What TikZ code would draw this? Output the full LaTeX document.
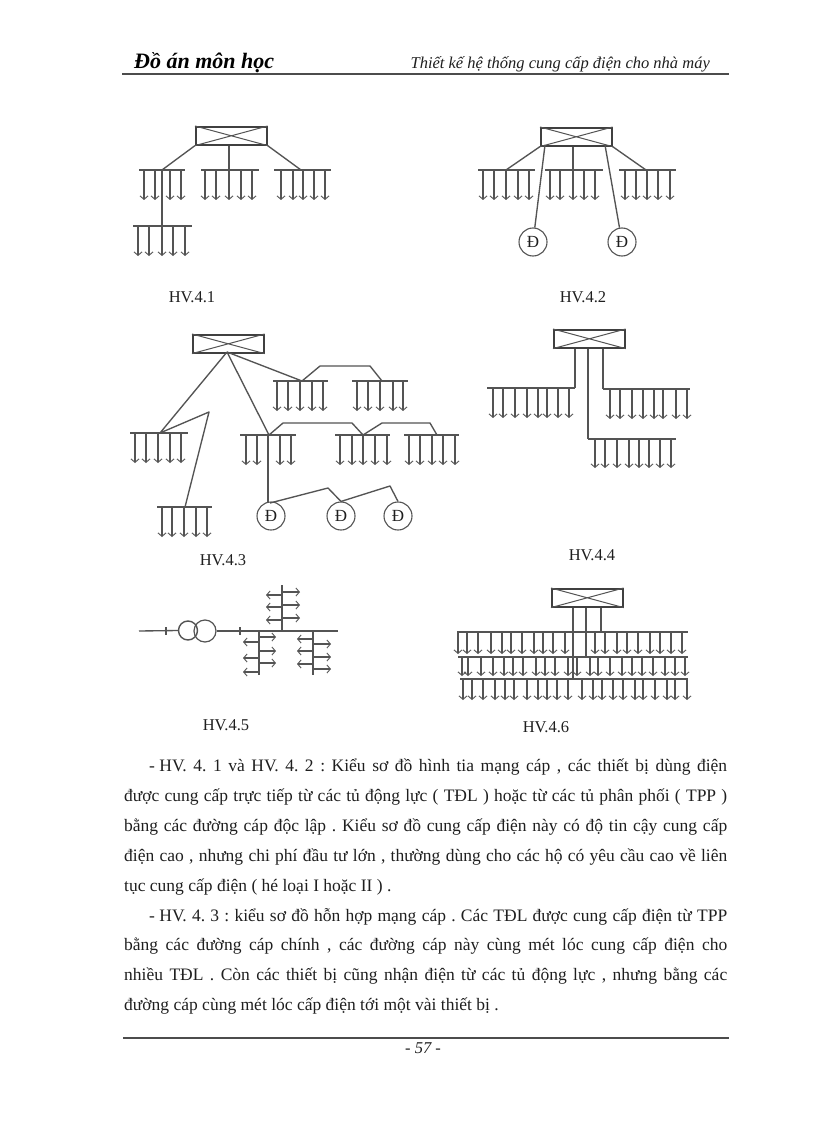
\documentclass[tikz,border=0pt]{standalone}
\usepackage{fontspec}
\setmainfont{Liberation Serif}
\usetikzlibrary{arrows.meta}
\definecolor{ln}{gray}{0.33}
\definecolor{tx}{gray}{0.12}
\tikzset{
  wire/.style={draw=ln,line width=1.35pt,line join=round},
  bar/.style={draw=ln,line width=1.35pt},
  drop/.style={draw=ln,line width=1.2pt,-{Straight Barb[length=3.5pt,width=8pt,line width=0.9pt]}},
  panel/.style={draw=black!75,line width=1.6pt,rectangle,minimum width=71pt,minimum height=18pt,inner sep=0pt,anchor=north west},
  motor/.style={draw=ln,line width=1.1pt,circle,minimum size=28pt,inner sep=0pt,text=tx,font=\fontsize{17}{17}\selectfont},
  figlabel/.style={text=tx,font=\fontsize{16.5}{17}\selectfont,inner sep=0pt},
  para/.style={text=tx,font=\fontsize{17.5}{18}\selectfont,inner sep=0pt,anchor=base west},
  rulex/.style={draw=black!70,line width=1.1pt}
}
% \busd{x1}{x2}{y}{tip y}{x list}
\newcommand{\busd}[5]{%
  \draw[bar] (#1,#3) -- (#2,#3);
  \foreach \xx in {#5} {\draw[drop] (\xx,#3) -- (\xx,#4);}
}
\newcommand{\xpanel}[1]{\draw[draw=ln,line width=1pt] (#1.north west)--(#1.south east) (#1.south west)--(#1.north east);}
\newcommand{\jline}[3]{\node[para] (#1) at (#2) {\hbox to 603pt{#3}};}
\begin{document}
\begin{tikzpicture}[x=1pt,y=-1pt]
\useasboundingbox (0,0) rectangle (816,1123);
\fill[white] (0,0) rectangle (816,1123);

% header
\node[inner sep=0pt,anchor=base west,text=black,font=\fontsize{22}{22}\selectfont\bfseries\itshape] (hl) at (134,69) {Đồ án môn học};
\node[inner sep=0pt,anchor=base east,text=tx,font=\fontsize{16.5}{17}\selectfont\itshape] (hr) at (710,69) {Thiết kế hệ thống cung cấp điện cho nhà máy};
\coordinate (hra) at (122,74); \coordinate (hrb) at (729,74);
\draw[rulex] (hra) -- (hrb);

% HV.4.1
\node[panel] (p1) at (195,126) {}; \xpanel{p1}
\coordinate (a1) at (162,170); \coordinate (a2) at (229,170); \coordinate (a3) at (301,170); \coordinate (a4) at (162,226);
\draw[wire] (p1.south west) -- (a1);
\draw[wire] (a2 |- p1.south) -- (a2);
\draw[wire] (p1.south east) -- (a3);
\draw[wire] (a1) -- (a4);
\busd{139}{185}{170}{200}{144,155,170,181}
\busd{201}{259}{170}{200}{205,216,229,241,252}
\busd{274}{331}{170}{200}{281,293,303,314,325}
\busd{133}{192}{226}{256}{138,149,162,173,185}
\node[figlabel] (c1) at (192,297) {HV.4.1};

% HV.4.2
\node[panel] (p2) at (540,127) {}; \xpanel{p2}
\coordinate (b1) at (506,170); \coordinate (b2) at (573,170); \coordinate (b3) at (646,170);
\coordinate (bm1) at (545,145); \coordinate (bm2) at (605,145);
\node[motor] (m1) at (533,242) {Đ};
\node[motor] (m2) at (622,242) {Đ};
\draw[wire] (p2.south west) -- (b1);
\draw[wire] (b2 |- p2.south) -- (b2);
\draw[wire] (p2.south east) -- (b3);
\draw[wire] (bm1) -- (m1);
\draw[wire] (bm2) -- (m2);
\busd{478}{535}{170}{200}{483,494,506,518,529}
\busd{545}{603}{170}{200}{550,560,573,584,595}
\busd{619}{676}{170}{200}{625,636,647,658,670}
\node[figlabel] (c2) at (583,297) {HV.4.2};

% HV.4.3
\node[panel] (p3) at (192,334) {}; \xpanel{p3}
\coordinate (t3) at (227,352);
\coordinate (d1) at (160,433); \coordinate (d1k) at (209,412); \coordinate (d2) at (185,507);
\coordinate (d3) at (269,435); \coordinate (d4) at (302,381);
\coordinate (d5) at (382,381); \coordinate (d6) at (363,435); \coordinate (d7) at (437,435);
\draw[wire] (t3) -- (d1) -- (d1k) -- (d2);
\draw[wire] (t3) -- (d3);
\draw[wire] (t3) -- (d4);
\draw[wire] (d4) -- (320,366) -- (370,366) -- (d5);
\draw[wire] (d3) -- (283,423) -- (352,423) -- (d6);
\draw[wire] (d6) -- (382,423) -- (430,423) -- (d7);
\busd{273}{328}{381}{411}{277,288,300,312,323}
\busd{352}{408}{381}{411}{357,368,380,393,403}
\busd{130}{188}{433}{463}{135,146,158,170,181}
\busd{157}{212}{507}{537}{162,172,184,196,207}
\busd{240}{296}{435}{465}{246,257,280,291}
\busd{335}{390}{435}{465}{340,352,363,375,387}
\busd{404}{459}{435}{465}{409,420,432,443,455}
\node[motor] (m3) at (271,516) {Đ};
\node[motor] (m4) at (341,516) {Đ};
\node[motor] (m5) at (398,516) {Đ};
\coordinate (e1) at (268,435);
\draw[wire] (e1) -- (268,503);
\draw[wire] (270,503) -- (328,488) -- (m4.north);
\draw[wire] (m4.north) -- (390,486) -- (m5.north);
\node[figlabel] (c3) at (223,560) {HV.4.3};

% HV.4.4
\node[panel] (p4) at (553,329) {}; \xpanel{p4}
\coordinate (f1) at (575,388); \coordinate (f2) at (603,389); \coordinate (f3) at (588,439);
\draw[wire] (f1 |- p4.south) -- (f1);
\draw[wire] (f2 |- p4.south) -- (f2);
\draw[wire] (f3 |- p4.south) -- (f3);
\busd{487}{575}{388}{418}{493,503,515,527,538,547,558,569}
\busd{603}{690}{389}{419}{610,620,632,643,654,663,676,687}
\busd{588}{676}{439}{468}{595,605,617,629,639,649,660,671}
\node[figlabel] (c4) at (592,555) {HV.4.4};

% HV.4.5
\node[draw=ln,line width=1.4pt,circle,minimum size=19pt,inner sep=0pt] (tr1) at (188,630.5) {};
\node[draw=ln,line width=1.2pt,circle,minimum size=22pt,inner sep=0pt] (tr2) at (205,631) {};
\coordinate (g0) at (139,631); \coordinate (g1) at (338,631);
\draw[wire] (g0) -- (tr1.west);
\draw[wire] (tr2.east) -- (g1);
\draw[wire] (166,627) -- (166,635);
\draw[wire] (240,627) -- (240,635);
\draw[wire] (282,585) -- (282,631);
\draw[wire] (259,631) -- (259,675);
\draw[wire] (313,631) -- (313,675);
\foreach \yy in {592,605,618} {\draw[drop] (282,\yy) -- (300,\yy);}
\foreach \yy in {595,607,620} {\draw[drop] (282,\yy) -- (266,\yy);}
\foreach \yy in {637,651,663} {\draw[drop] (259,\yy) -- (276,\yy);}
\foreach \yy in {642,658,672} {\draw[drop] (259,\yy) -- (243,\yy);}
\foreach \yy in {639,651,664} {\draw[drop] (313,\yy) -- (297,\yy);}
\foreach \yy in {644,657,669} {\draw[drop] (313,\yy) -- (331,\yy);}
\node[figlabel] (c5) at (226,725) {HV.4.5};

% HV.4.6
\node[panel] (p6) at (551,588) {}; \xpanel{p6}
\coordinate (k1) at (601,632); \coordinate (k2) at (586,657); \coordinate (k3) at (573,679);
\draw[wire] (k1 |- p6.south) -- (k1);
\draw[wire] (k2 |- p6.south) -- (k2);
\draw[wire] (k3 |- p6.south) -- (k3);
\busd{457}{688}{632}{654}{458,467,478,491,502,511,522,534,543,553,565,595,605,617,627,638,650,660,671,682}
\busd{458}{688}{657}{676}{462,468,481,493,504,513,523,536,545,555,568,577,590,598,610,622,632,642,653,665,675,685}
\busd{460}{688}{679}{700}{463,472,483,495,505,514,527,538,547,557,568,582,593,602,613,623,635,643,655,667,675,687}
\node[figlabel] (c6) at (546,727) {HV.4.6};

% paragraphs
\jline{l1}{124,771}{\hspace{25pt}- HV.\hfill 4.\hfill 1\hfill và\hfill HV.\hfill 4.\hfill 2\hfill :\hfill Kiểu\hfill sơ\hfill đồ\hfill hình\hfill tia\hfill mạng\hfill cáp\hfill ,\hfill các\hfill thiết\hfill bị\hfill dùng\hfill điện}
\jline{l2}{124,801}{được\hfill cung\hfill cấp\hfill trực\hfill tiếp\hfill từ\hfill các\hfill tủ\hfill động\hfill lực\hfill (\hfill TĐL\hfill )\hfill hoặc\hfill từ\hfill các\hfill tủ\hfill phân\hfill phối\hfill (\hfill TPP\hfill )}
\jline{l3}{124,831}{bằng\hfill các\hfill đường\hfill cáp\hfill độc\hfill lập\hfill .\hfill Kiểu\hfill sơ\hfill đồ\hfill cung\hfill cấp\hfill điện\hfill này\hfill có\hfill độ\hfill tin\hfill cậy\hfill cung\hfill cấp}
\jline{l4}{124,861}{điện\hfill cao\hfill ,\hfill nhưng\hfill chi\hfill phí\hfill đầu\hfill tư\hfill lớn\hfill ,\hfill thường\hfill dùng\hfill cho\hfill các\hfill hộ\hfill có\hfill yêu\hfill cầu\hfill cao\hfill về\hfill liên}
\jline{l5}{124,891}{tục cung cấp điện ( hé loại I hoặc II ) .\hfill}
\jline{l6}{124,921}{\hspace{25pt}- HV.\hfill 4.\hfill 3\hfill :\hfill kiểu\hfill sơ\hfill đồ\hfill hỗn\hfill hợp\hfill mạng\hfill cáp\hfill .\hfill Các\hfill TĐL\hfill được\hfill cung\hfill cấp\hfill điện\hfill từ\hfill TPP}
\jline{l7}{124,950}{bằng\hfill các\hfill đường\hfill cáp\hfill chính\hfill ,\hfill các\hfill đường\hfill cáp\hfill này\hfill cùng\hfill mét\hfill lóc\hfill cung\hfill cấp\hfill điện\hfill cho}
\jline{l8}{124,980}{nhiều\hfill TĐL\hfill .\hfill Còn\hfill các\hfill thiết\hfill bị\hfill cũng\hfill nhận\hfill điện\hfill từ\hfill các\hfill tủ\hfill động\hfill lực\hfill ,\hfill nhưng\hfill bằng\hfill các}
\jline{l9}{124,1010}{đường cáp cùng mét lóc cấp điện tới một vài thiết bị .\hfill}

% footer
\coordinate (fra) at (123,1038); \coordinate (frb) at (729,1038);
\draw[rulex] (fra) -- (frb);
\node[inner sep=0pt,text=tx,font=\fontsize{16.5}{16}\selectfont\itshape] (pg) at (423,1048) {- 57 -};
\end{tikzpicture}
\end{document}
